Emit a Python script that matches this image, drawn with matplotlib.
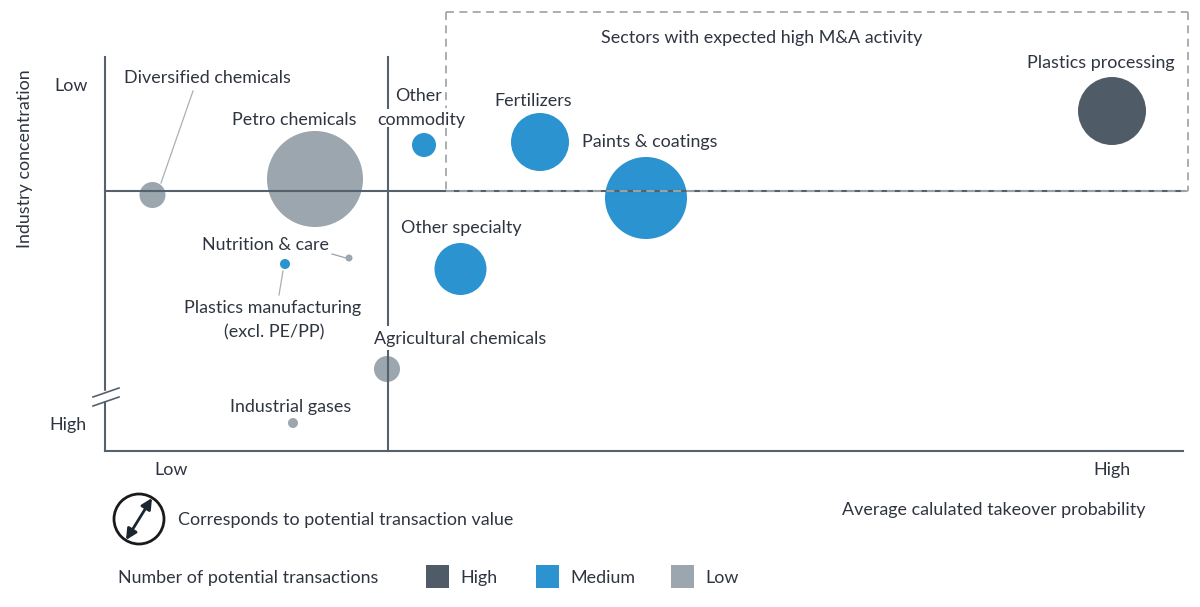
import matplotlib
matplotlib.use('Agg')
import matplotlib.pyplot as plt
from matplotlib.patches import Circle, Rectangle

plt.rcParams['font.family'] = ['Lato', 'DejaVu Sans']

# sectors (pixel-like units of the chart)
sectors = ['Diversified chemicals', 'Petro chemicals', 'Other commodity', 'Fertilizers',
           'Paints & coatings', 'Plastics processing', 'Other specialty', 'Nutrition & care',
           'Plastics manufacturing', 'Agricultural chemicals', 'Industrial gases']
takeover = [152.5, 315, 424, 540, 646, 1112, 460.5, 349, 285, 387, 293]
concentration = [195, 179, 145, 142, 198, 111, 269, 258, 264, 369, 423]
radius = [13, 48, 12, 29, 41, 34, 26, 3.5, 5, 13, 5]
level = ['low', 'low', 'medium', 'medium', 'medium', 'high', 'medium', 'low', 'medium', 'low', 'low']

colors = {'high': '#4f5c68', 'medium': '#2a93d0', 'low': '#9ba6ae'}
text_col = '#2f3540'
line_col = '#55626d'
dash_col = '#a3a8ac'

fig = plt.figure(figsize=(12, 6.07), dpi=100)
ax = fig.add_axes([0, 0, 1, 1])
ax.set_xlim(0, 1200)
ax.set_ylim(607, 0)
ax.axis('off')

for x, y, r, l in zip(takeover, concentration, radius, level):
    ax.add_patch(Circle((x, y), r, color=colors[l], ec='none', zorder=2))

# axes and quadrant lines, the middle one stops around two labels
ax.plot([105, 105], [57, 451], color=line_col, lw=1.5, zorder=3)
ax.plot([105, 1183], [451, 451], color=line_col, lw=1.5, zorder=3)
ax.plot([388, 388], [57, 108], color=line_col, lw=1.5, zorder=3)
ax.plot([388, 388], [128, 325], color=line_col, lw=1.5, zorder=3)
ax.plot([388, 388], [351, 451], color=line_col, lw=1.5, zorder=3)
ax.plot([105, 1185], [191, 191], color=line_col, lw=1.5, zorder=3)

# axis break
ax.add_patch(Rectangle((95, 391), 20, 9, color='white', zorder=3))
ax.plot([93, 119], [397, 388], color=line_col, lw=1.2, zorder=4)
ax.plot([93, 119], [406, 397], color=line_col, lw=1.2, zorder=4)

# dashed box for high M&A
dash = (0, (4.4, 3))
ax.plot([446, 446], [12, 108], color=dash_col, ls=dash, lw=1.3, zorder=4)
ax.plot([446, 446], [128, 191], color=dash_col, ls=dash, lw=1.3, zorder=4)
ax.plot([446, 1188], [12, 12], color=dash_col, ls=dash, lw=1.3, zorder=4)
ax.plot([1188, 1188], [12, 191], color=dash_col, ls=dash, lw=1.3, zorder=4)
ax.plot([446, 1188], [191, 191], color=dash_col, ls=dash, lw=1.3, zorder=4)

# leader lines
ax.plot([161, 193], [183, 91], color='#a9b0b6', lw=0.9, zorder=1)
ax.plot([332, 346], [254, 258], color='#9aa3aa', lw=0.9, zorder=1)
ax.plot([283, 279], [271, 295], color='#a9b0b6', lw=0.9, zorder=1)

labels = [
    (207, 78, 'Diversified chemicals'),
    (294, 120, 'Petro chemicals'),
    (418, 96, 'Other'),
    (421, 120, 'commodity'),
    (533, 101, 'Fertilizers'),
    (650, 142, 'Paints & coatings'),
    (1101, 63, 'Plastics processing'),
    (461, 228, 'Other specialty'),
    (266, 245, 'Nutrition & care'),
    (273, 308, 'Plastics manufacturing'),
    (274, 332, '(excl. PE/PP)'),
    (460, 339, 'Agricultural chemicals'),
    (291, 407, 'Industrial gases'),
    (762, 38, 'Sectors with expected high M&A activity'),
    (71, 86, 'Low'),
    (68, 425, 'High'),
    (171, 470, 'Low'),
    (1112, 470, 'High'),
    (994, 510, 'Average calulated takeover probability'),
]
for x, y, s in labels:
    ax.text(x, y, s, ha='center', va='center', fontsize=12.9, color=text_col, zorder=6)
ax.text(25, 159, 'Industry concentration', rotation=90, ha='center', va='center', fontsize=12.9, color=text_col)

# size legend
ax.add_patch(Circle((139, 519), 25, fc='white', ec='#1a1a1a', lw=2))
ax.annotate('', xy=(152, 498), xytext=(126, 540),
            arrowprops=dict(arrowstyle='<|-|>', color='#1a2530', lw=2, mutation_scale=16,
                            shrinkA=0, shrinkB=0))
ax.text(178, 520, 'Corresponds to potential transaction value', va='center', fontsize=12.9, color=text_col)

# colour legend
ax.text(118, 578, 'Number of potential transactions', va='center', fontsize=12.9, color=text_col)
for x, l, s in [(426, 'high', 'High'), (536, 'medium', 'Medium'), (671, 'low', 'Low')]:
    ax.add_patch(Rectangle((x, 565), 23, 23, color=colors[l], ec='none'))
    ax.text(x + 34, 578, s, va='center', fontsize=12.9, color=text_col)

fig.savefig('out.png', dpi=100)
